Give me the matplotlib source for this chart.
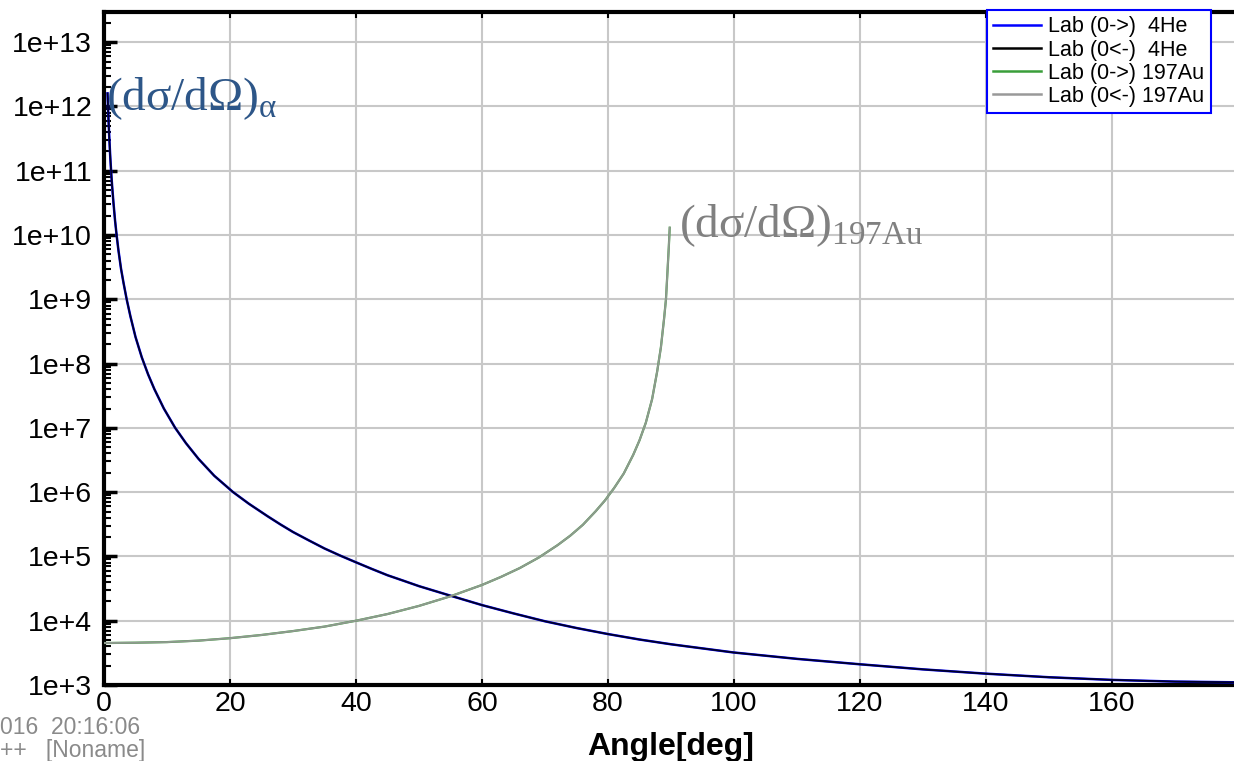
import matplotlib.pyplot as plt
import numpy as np
from matplotlib.ticker import FixedLocator, FuncFormatter, LogLocator, NullFormatter

plt.rcParams['font.family'] = ['Liberation Sans', 'DejaVu Sans']

# alpha (4He) lab cross section
he_angle = [0.56, 0.65, 0.75, 0.85, 1.0, 1.15, 1.3, 1.5, 1.75, 2.0, 2.3, 2.7, 3.1, 3.6, 4.2,
            5.0, 6.0, 7.0, 8.0, 9.5, 11.3, 13, 15, 17.5, 20.5, 23, 26, 28, 30, 32.5, 35,
            37.5, 40, 42.5, 45, 47.5, 50, 55, 60, 65, 70, 75, 80, 85, 90, 100, 110, 120,
            130, 140, 150, 160, 170, 180]
he_xs = [1.6e12, 9e11, 5.1e11, 3.1e11, 1.6e11, 9.1e10, 5.6e10, 3.2e10, 1.7e10, 1e10, 5.7e9,
         3e9, 1.8e9, 1e9, 5.4e8, 2.6e8, 1.25e8, 6.8e7, 4e7, 2e7, 1e7, 5.8e6, 3.3e6, 1.8e6,
         1e6, 6.6e5, 4.2e5, 3.15e5, 2.4e5, 1.78e5, 1.33e5, 1.03e5, 8.1e4, 6.4e4, 5.1e4,
         4.2e4, 3.45e4, 2.45e4, 1.75e4, 1.3e4, 9.8e3, 7.7e3, 6.2e3, 5.1e3, 4.3e3, 3.2e3,
         2.55e3, 2.1e3, 1.75e3, 1.5e3, 1.32e3, 1.2e3, 1.13e3, 1.1e3]

# 197Au recoil lab cross section
au_angle = [0, 5, 10, 15, 20, 25, 30, 35, 40, 45, 50, 55, 60, 63, 66, 69, 72, 74, 76, 78,
            79.5, 81, 82.5, 84, 85, 86, 87, 87.8, 88.4, 88.9, 89.2, 89.45, 89.65, 89.8]
au_xs = [4.5e3, 4.55e3, 4.65e3, 4.9e3, 5.35e3, 6e3, 6.9e3, 8.1e3, 1e4, 1.27e4, 1.7e4, 2.4e4,
         3.6e4, 4.8e4, 6.6e4, 9.6e4, 1.5e5, 2.1e5, 3.1e5, 5e5, 7.4e5, 1.17e6, 1.95e6, 3.8e6,
         6.4e6, 1.2e7, 2.8e7, 7.5e7, 1.8e8, 5e8, 1e9, 2.8e9, 6.5e9, 1.3e10]

legend_labels = ['Lab (0->)  4He', 'Lab (0<-)  4He', 'Lab (0->) 197Au', 'Lab (0<-) 197Au']
legend_colors = ['#0000ff', '#000000', '#3a9e3a', '#999999']

W, H = 1234, 761
fig = plt.figure(figsize=(W / 100, H / 100), dpi=100)
ax = fig.add_axes([104 / W, 1 - 685 / H, (1238 - 104) / W, (685 - 12) / H])

ax.plot(he_angle, he_xs, color=legend_colors[0], lw=1.8, zorder=3)
ax.plot(he_angle, he_xs, color=legend_colors[1], lw=1.3, alpha=0.85, zorder=4)
ax.plot(au_angle, au_xs, color=legend_colors[2], lw=1.6, zorder=3)
ax.plot(au_angle, au_xs, color=legend_colors[3], lw=1.4, alpha=0.9, zorder=4)

ax.set_yscale('log')
ax.set_xlim(0, 180)
ax.set_ylim(1e3, 10 ** 13.47)

ax.xaxis.set_major_locator(FixedLocator(np.arange(0, 180, 20)))
ax.yaxis.set_major_locator(FixedLocator([10.0 ** k for k in range(3, 14)]))
ax.yaxis.set_major_formatter(FuncFormatter(lambda v, p: '1e+%d' % round(np.log10(v))))
ax.yaxis.set_minor_locator(LogLocator(base=10, subs=np.arange(2, 10), numticks=30))
ax.yaxis.set_minor_formatter(NullFormatter())

ax.grid(True, which='major', color='#c8c8c8', lw=1.5)
ax.set_axisbelow(True)
for side in ['left', 'bottom', 'top']:
    ax.spines[side].set_linewidth(3)
ax.spines['right'].set_visible(False)

ax.tick_params(axis='y', which='major', direction='in', length=9, width=2.5,
               labelsize=20.5, pad=8.5)
ax.tick_params(axis='y', which='minor', direction='in', length=5, width=1.5)
ax.tick_params(axis='x', which='major', direction='in', length=4, width=1.5,
               labelsize=20.5, pad=4, top=True)

ax.set_xlabel('Angle[deg]', fontsize=23, fontweight='bold', labelpad=11)

ax.text(0.35, 8.7e11, '(dσ/dΩ)$_{\\mathregular{α}}$', family='Liberation Serif',
        fontsize=34, color='#2d5688', ha='left', va='baseline', zorder=5)
ax.text(91.2, 9.3e9, '(dσ/dΩ)$_{\\mathregular{197Au}}$', family='Liberation Serif',
        fontsize=34, color='#808080', ha='left', va='baseline', zorder=5)

handles = [plt.Line2D([], [], color=c, lw=1.8) for c in legend_colors]
leg = fig.legend(handles, legend_labels, loc='upper left',
                 bbox_to_anchor=(987 / W, 1 - 10 / H), bbox_transform=fig.transFigure,
                 fontsize=15.5, frameon=True, fancybox=False, framealpha=1,
                 edgecolor='#0000ff', borderpad=0.3, labelspacing=0.1,
                 handlelength=2.2, handletextpad=0.35, borderaxespad=0)
leg.get_frame().set_linewidth(1.5)

fig.text(0, 1 - 728 / H, '016  20:16:06', fontsize=16.5, color='#8a8a8a', va='center')
fig.text(0, 1 - 751 / H, '++   [Noname]', fontsize=16.5, color='#8a8a8a', va='center')

fig.savefig('out.png', dpi=100)
